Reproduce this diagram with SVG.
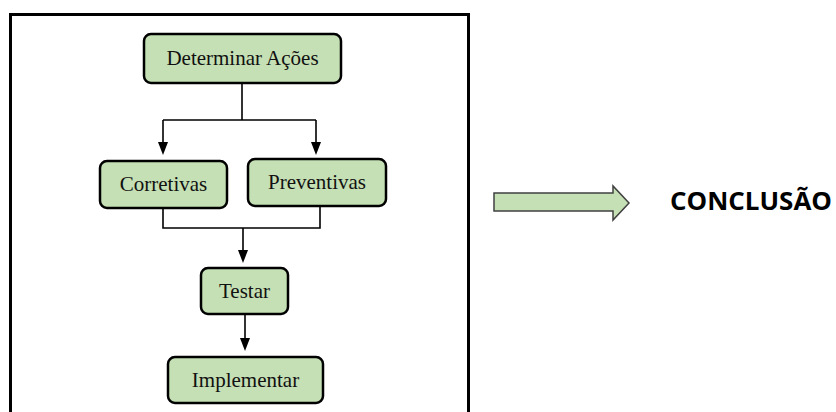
<svg xmlns="http://www.w3.org/2000/svg" width="836" height="412" viewBox="0 0 836 412">
<style>
.box{fill:#c5e0b4;stroke:#000;stroke-width:2.5}
.lbl{font-family:"Liberation Serif","Times New Roman",serif;font-size:21px;fill:#111;text-anchor:middle}
.ln{fill:none;stroke:#000;stroke-width:1.6}
</style>
<defs>
<marker id="ah" markerWidth="10" markerHeight="12" refX="5" refY="12" orient="auto-start-reverse" markerUnits="userSpaceOnUse" viewBox="0 0 10 12">
<path d="M0,0 L10,0 L5,12 Z" fill="#000"/>
</marker>
</defs>
<rect width="836" height="412" fill="#fff"/>
<rect x="10.5" y="14.5" width="458" height="410" fill="none" stroke="#000" stroke-width="3"/>
<g id="connectors">
<path class="ln" d="M242,83 V120 M163,120 H316"/>
<path class="ln" d="M163,120 V143"/>
<path class="ln" d="M316,120 V143"/>
<polygon points="158,142 168,142 163,155" fill="#000"/>
<polygon points="311,142 321,142 316,155" fill="#000"/>
<path class="ln" d="M163,208 V228 H320 V206 M243,228 V251"/>
<polygon points="238,250 248,250 243,263" fill="#000"/>
<path class="ln" d="M245,314 V339"/>
<polygon points="240,338 250,338 245,351" fill="#000"/>
</g>
<g id="n-determinar">
<rect class="box" x="144" y="34" width="197" height="49" rx="7"/>
<text class="lbl" x="242.5" y="65">Determinar Ações</text>
</g>
<g id="n-corretivas">
<rect class="box" x="100" y="161" width="127" height="47" rx="7"/>
<text class="lbl" x="163.5" y="191">Corretivas</text>
</g>
<g id="n-preventivas">
<rect class="box" x="248" y="159" width="138" height="47" rx="7"/>
<text class="lbl" x="317" y="189">Preventivas</text>
</g>
<g id="n-testar">
<rect class="box" x="201" y="268" width="87" height="46" rx="7"/>
<text class="lbl" x="244.5" y="298">Testar</text>
</g>
<g id="n-implementar">
<rect class="box" x="168" y="357" width="155" height="46" rx="7"/>
<text class="lbl" x="245.5" y="387">Implementar</text>
</g>
<g id="n-arrow">
<polygon points="494,193 613,193 613,186 629,203 613,220 613,211 494,211" fill="#c5e0b4" stroke="#404040" stroke-width="1.5"/>
</g>
<g id="n-conclusao">
<text x="670" y="210" font-family="'Open Sans','Liberation Sans',sans-serif" font-weight="bold" font-size="25" fill="#000" textLength="162" lengthAdjust="spacingAndGlyphs">CONCLUSÃO</text>
</g>
</svg>
